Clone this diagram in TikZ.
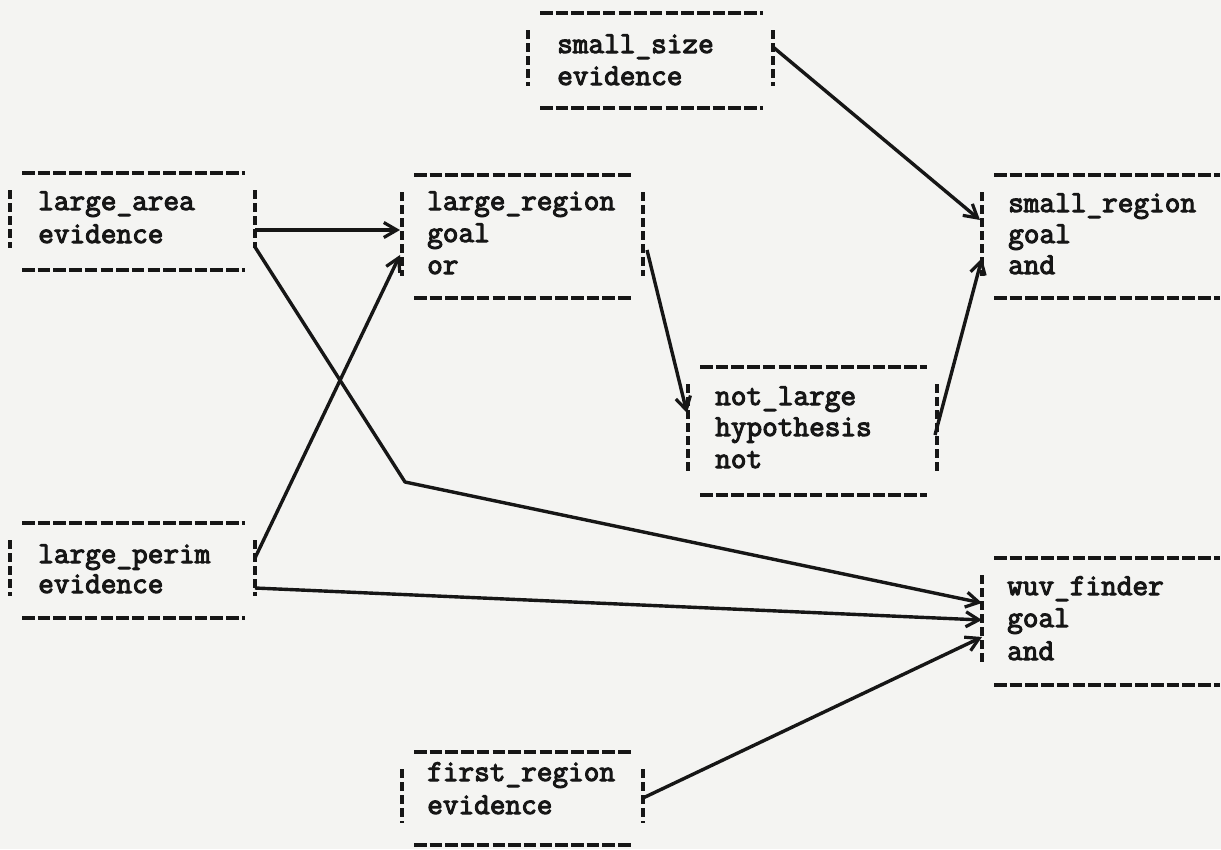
\documentclass[tikz,border=0pt]{standalone}
\usepackage{fontspec}
\usetikzlibrary{calc,arrows.meta}
\newfontfamily\tyfont[FakeBold=3.5]{Latin Modern Mono}
\definecolor{paper}{RGB}{244,244,242}
\definecolor{ink}{RGB}{22,22,22}
\tikzset{
  frame/.style={rectangle,draw=none,inner sep=0pt,outer sep=0pt},
  hdash/.style={draw=ink,line width=4.6pt,dash pattern=on 12.5pt off 3.2pt},
  vbar/.style={draw=ink,line width=3.2pt,dash pattern=on 9pt off 4pt},
  lbl/.style={anchor=base west,inner sep=0pt,text=ink,font=\tyfont\fontsize{30.4}{32}\selectfont},
  conn/.style={draw=ink,line width=3.4pt,line join=round,-{Straight Barb[length=13pt,width=15pt,line width=3.2pt]}}
}
% #1 name, #2 left, #3 top, #4 width, #5 height, #6 right bar (1/0)
\newcommand{\tybox}[6]{%
  \node[frame,minimum width=#4pt,minimum height=#5pt,anchor=north west] (#1) at (#2,#3) {};
  \ifnum#6=1
    \draw[hdash] ($(#1.north west)+(12,0)$) -- ($(#1.north east)+(-10,0)$);
    \draw[hdash] ($(#1.south west)+(12,0)$) -- ($(#1.south east)+(-10,0)$);
    \draw[vbar] ($(#1.north east)+(0,17)$) -- ($(#1.south east)+(0,-22)$);
  \else
    \draw[hdash] ($(#1.north west)+(12,0)$) -- (#1.north east);
    \draw[hdash] ($(#1.south west)+(12,0)$) -- (#1.south east);
  \fi
  \draw[vbar] ($(#1.north west)+(0,17)$) -- ($(#1.south west)+(0,-22)$);
}
\begin{document}
\begin{tikzpicture}[x=1pt,y=-1pt]
\useasboundingbox (0,0) rectangle (1221,849);
\fill[paper] (0,0) rectangle (1221,849);

% boxes
\tybox{A}{10}{173}{245}{97}{1}
\tybox{S}{528}{13}{245}{95}{1}
\tybox{B}{402}{175}{241}{123}{1}
\tybox{R}{982}{175}{238}{123}{0}
\tybox{N}{688}{367}{249}{128}{1}
\tybox{P}{10}{523}{245}{95}{1}
\tybox{W}{982}{558}{238}{127}{0}
\tybox{F}{402}{752}{241}{93}{1}

% texts
\node[lbl] (A1) at (38,210) {large\_area};
\node[lbl] (A2) at (38,243) {evidence};
\node[lbl] (S1) at (557,53) {small\_size};
\node[lbl] (S2) at (557,85) {evidence};
\node[lbl] (B1) at (427,210) {large\_region};
\node[lbl] (B2) at (427,242) {goal};
\node[lbl] (B3) at (427,274) {or};
\node[lbl] (R1) at (1008,212) {small\_region};
\node[lbl] (R2) at (1008,243) {goal};
\node[lbl] (R3) at (1008,274) {and};
\node[lbl] (N1) at (715,405) {not\_large};
\node[lbl] (N2) at (715,436) {hypothesis};
\node[lbl] (N3) at (715,468) {not};
\node[lbl] (P1) at (38,563) {large\_perim};
\node[lbl] (P2) at (38,593) {evidence};
\node[lbl] (W1) at (1007,595) {wuv\_finder};
\node[lbl] (W2) at (1007,627) {goal};
\node[lbl] (W3) at (1007,660) {and};
\node[lbl] (F1) at (427,781) {first\_region};
\node[lbl] (F2) at (427,814) {evidence};

% connectors
\coordinate (k) at (405,482);
\draw[conn] ($(A.north east)+(0,57)$) -- ($(B.north west)+(-2,55)$);
\draw[conn] ($(A.north east)+(0,74)$) -- (k) -- ($(W.north west)+(0,45)$);
\draw[conn] ($(P.north east)+(0,35)$) -- ($(B.north west)+(-2,80)$);
\draw[conn] ($(P.north east)+(0,65)$) -- ($(W.north west)+(0,62)$);
\draw[conn] ($(F.north east)+(0,46)$) -- ($(W.north west)+(0,79)$);
\draw[conn] ($(S.north east)+(0,34)$) -- ($(R.north west)+(-2,45)$);
\draw[conn] ($(N.north east)+(-2,68)$) -- ($(R.north west)+(0,83)$);
\draw[conn] ($(B.north east)+(4,75)$) -- ($(N.north west)+(-1,46)$);
\end{tikzpicture}
\end{document}
